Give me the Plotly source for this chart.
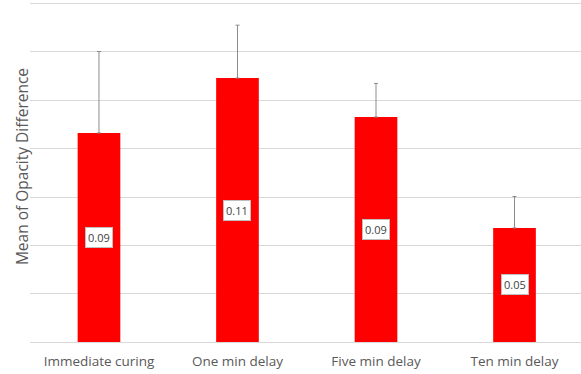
import plotly.graph_objects as go

categories = ["Immediate curing", "One min delay", "Five min delay", "Ten min delay"]
means = [0.0865, 0.1092, 0.0931, 0.0472]
err_plus = [0.0337, 0.0219, 0.0139, 0.0130]
y_ticks = [0, 0.02, 0.04, 0.06, 0.08, 0.10, 0.12, 0.14]

fig = go.Figure()
fig.add_trace(go.Bar(
    x=categories, y=means, width=0.308,
    marker=dict(color="#FF0000", line=dict(width=0)),
    error_y=dict(type="data", array=err_plus, arrayminus=[0]*len(means), symmetric=False,
                 color="#8c8c8c", thickness=1, width=2),
))

for c, v in zip(categories, means):
    fig.add_annotation(x=c, y=v / 2, text=f"{v:.2f}", showarrow=False,
                       font=dict(family="Open Sans", size=11, color="#404040"),
                       bgcolor="white", bordercolor="#bfbfbf", borderwidth=1, borderpad=2)

fig.add_annotation(xref="paper", yref="paper", x=0, y=0.513, xshift=-8, xanchor="center",
                   text="Mean of Opacity Difference", textangle=-90, showarrow=False,
                   font=dict(family="Open Sans", size=15.5, color="#595959"))

fig.update_layout(
    width=581, height=374,
    margin=dict(l=30, r=0, t=1, b=32),
    paper_bgcolor="white", plot_bgcolor="white",
    showlegend=False,
    xaxis=dict(range=[-0.498, 3.48], showgrid=False, showline=False, ticks="",
               ticklabelstandoff=9,
               tickfont=dict(family="Open Sans", size=13.5, color="#595959")),
    yaxis=dict(range=[0, 0.1411], tickvals=y_ticks, showticklabels=False,
               gridcolor="#d9d9d9", gridwidth=1, zeroline=True, zerolinecolor="#d9d9d9",
               zerolinewidth=1, showline=False, ticks=""),
)

fig.write_html("out.html", config={"displayModeBar": False},
               post_script="document.body.style.margin='0';document.body.style.overflow='hidden';")
